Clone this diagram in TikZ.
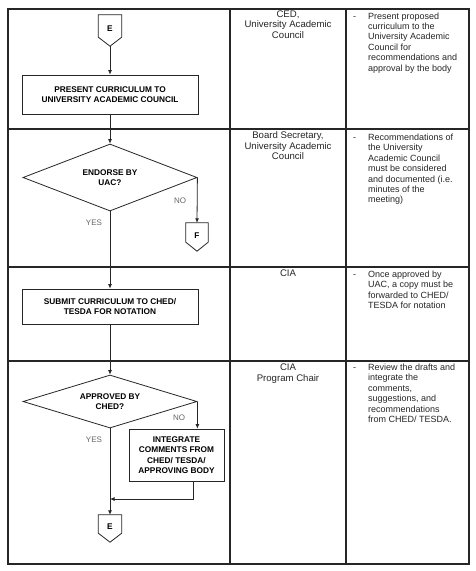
\documentclass[tikz,border=0pt]{standalone}
\usepackage{fontspec}
\setmainfont{Liberation Sans}
\usetikzlibrary{shapes.geometric,arrows.meta,calc}
\begin{document}
\begin{tikzpicture}[x=1pt,y=-1pt,
  grid/.style={line width=1.1pt, draw=black!85},
  flow/.style={line width=0.8pt, draw=black!85},
  arr/.style={flow, -{Latex[length=4.5pt,width=4pt]}},
  proc/.style={draw=black!85, line width=0.8pt, rectangle, inner sep=0, align=center, font=\fontsize{8.3}{10.3}\selectfont\bfseries},
  dec/.style={draw=black!85, line width=0.8pt, diamond, aspect=3, inner sep=0, align=center, font=\fontsize{8.3}{10.3}\selectfont\bfseries},
  offp/.style={inner sep=0, font=\fontsize{8.3}{10}\selectfont\bfseries},
  lbl/.style={font=\fontsize{8}{10}\selectfont, text=black!60, inner sep=0},
  who/.style={font=\fontsize{9.6}{10.5}\selectfont, align=center, anchor=north, inner sep=0, text=black!85},
  what/.style={font=\fontsize{9}{10.4}\selectfont, align=left, anchor=north west, inner sep=0, text=black!85},
]
\useasboundingbox (0,0) rectangle (476,571);
\fill[white] (0,0) rectangle (476,571);
% table
\draw[grid] (8,9) rectangle (469,564);
\draw[grid] (230,9) -- (230,564);
\draw[grid] (346,9) -- (346,564);
\draw[grid] (8,129) -- (469,129);
\draw[grid] (8,267) -- (469,267);
\draw[grid] (8,361) -- (469,361);
% flow nodes
\node[offp, minimum width=23pt, minimum height=31pt] (E1) at (110,30.5) {\raisebox{3pt}{E}};
\draw[flow] (E1.north west) -- (E1.north east) -- ([yshift=9pt]E1.south east) -- (E1.south) -- ([yshift=9pt]E1.south west) -- cycle;
\node[proc, minimum width=176pt, minimum height=39pt] (B1) at (110,94.5) {PRESENT CURRICULUM TO\\UNIVERSITY ACADEMIC COUNCIL};
\node[dec, minimum width=174pt, minimum height=67pt] (D1) at (110,177.5) {ENDORSE BY\\UAC?};
\node[offp, minimum width=22pt, minimum height=28pt] (F1) at (197,237) {\raisebox{3pt}{F}};
\draw[flow] (F1.north west) -- (F1.north east) -- ([yshift=9pt]F1.south east) -- (F1.south) -- ([yshift=9pt]F1.south west) -- cycle;
\node[proc, minimum width=176pt, minimum height=35pt] (B2) at (110,306.5) {SUBMIT CURRICULUM TO CHED/\\TESDA FOR NOTATION};
\node[dec, minimum width=174pt, minimum height=53pt] (D2) at (110,401.5) {APPROVED BY\\CHED?};
\node[proc, minimum width=95pt, minimum height=52pt] (B3) at (176.5,455) {INTEGRATE\\COMMENTS FROM\\CHED/ TESDA/\\APPROVING BODY};
\node[offp, minimum width=23pt, minimum height=27pt] (E2) at (110,528.5) {\raisebox{3pt}{E}};
\draw[flow] (E2.north west) -- (E2.north east) -- ([yshift=9pt]E2.south east) -- (E2.south) -- ([yshift=9pt]E2.south west) -- cycle;
\coordinate (M) at (110,499);
% labels
\node[lbl] (no1) at (180,201) {NO};
\node[lbl] (yes1) at (94,223) {YES};
\node[lbl] (no2) at (179,418) {NO};
\node[lbl] (yes2) at (94,440) {YES};
% connectors
\draw[arr] (E1.south) -- (B1.north);
\draw[arr] (B1.south) -- (D1.north);
\draw[arr] (D1.east) -- (F1.north);
\draw[arr] (D1.south) -- (B2.north);
\draw[arr] (B2.south) -- (D2.north);
\draw[arr] (D2.east) -- (D2.east |- B3.north);
\draw[arr] (D2.south) -- (E2.north);
\draw[arr] ([xshift=16.5pt]B3.south) |- (M);
% responsible column
\node[who] (w1) at (288,9.8) {\strut CED,\\University Academic\\Council};
\node[who] (w2) at (288,131) {\strut Board Secretary,\\University Academic\\Council};
\node[who] (w3) at (288,269) {\strut CIA};
\node[who] (w4) at (288,363) {\strut CIA\\Program Chair};
% description column
\node[what] (d1) at (353,11.6) {\strut -};
\node[what] (t1) at (368,11.6) {\strut Present proposed\\curriculum to the\\University Academic\\Council for\\recommendations and\\approval by the body};
\node[what] (d2) at (353,133) {\strut -};
\node[what] (t2) at (368,133) {\strut Recommendations of\\the University\\Academic Council\\must be considered\\and documented (i.e.\\minutes of the\\meeting)};
\node[what] (d3) at (353,269.8) {\strut -};
\node[what] (t3) at (368,269.8) {\strut Once approved by\\UAC, a copy must be\\forwarded to CHED/\\TESDA for notation};
\node[what] (d4) at (353,363) {\strut -};
\node[what] (t4) at (368,363) {\strut Review the drafts and\\integrate the\\comments,\\suggestions, and\\recommendations\\from CHED/ TESDA.};
\end{tikzpicture}
\end{document}
